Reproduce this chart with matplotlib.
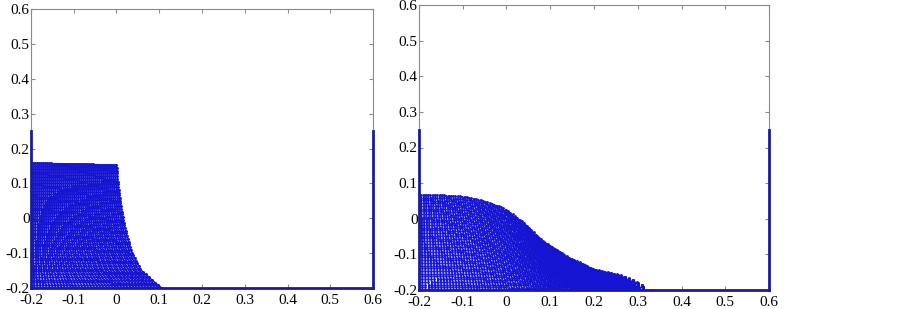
import numpy as np
import matplotlib.pyplot as plt

plt.rcParams['font.family'] = ['Liberation Serif', 'DejaVu Serif']

# tick values (same on both panels)
ticks = [-0.2, -0.1, 0.0, 0.1, 0.2, 0.3, 0.4, 0.5, 0.6]
tick_labels = ['-0.2', '-0.1', '0', '0.1', '0.2', '0.3', '0.4', '0.5', '0.6']

# tank walls
wall_top = 0.25
tank_left, tank_right, tank_bottom = -0.2, 0.6, -0.2

# panel 1: top of the water column and its collapsing front
top1_x = [-0.2, -0.1, 0.0]
top1_y = [0.158, 0.156, 0.152]
front1_y = [-0.2, -0.18, -0.15, -0.1, -0.05, 0.0, 0.05, 0.1, 0.152]
front1_x = [0.106, 0.086, 0.058, 0.036, 0.024, 0.015, 0.008, 0.003, 0.0]

# panel 2: free surface later on
surf2_x = [-0.2, -0.15, -0.1, -0.06, -0.02, 0.0, 0.04, 0.08, 0.14, 0.2, 0.26, 0.29, 0.315, 0.33]
surf2_y = [0.067, 0.066, 0.062, 0.053, 0.036, 0.025, -0.012, -0.06, -0.107, -0.142, -0.158, -0.172, -0.19, -0.2]
lean2 = 0.05

n_cols1, n_rows1 = 44, 46
n_cols2, n_rows2 = 90, 36
blue = '#1414d2'
wall_blue = '#1a1aa0'
grey = '#8a8a8a'

fig = plt.figure(figsize=(9.03, 3.09), dpi=100)
ax1 = fig.add_axes([31 / 903, 21 / 309, 342 / 903, 279 / 309])
ax2 = fig.add_axes([419 / 903, 19 / 309, 350 / 903, 285 / 309])

# panel 1 particles
v = np.linspace(0, 1, n_rows1)
for ui in np.linspace(0, 1, n_cols1):
    top = np.interp(-0.2 + 0.2 * ui, top1_x, top1_y)
    yy = -0.2 + v * (top + 0.2)
    xx = -0.2 + ui * (np.interp(yy, front1_y, front1_x) + 0.2)
    ax1.plot(xx, yy, '-', color=blue, lw=1.0, marker='.', ms=2.2)

# panel 2 particles: column spacing mostly uniform, partly area-weighted
v = np.linspace(0, 1, n_rows2)
xg = np.linspace(surf2_x[0], surf2_x[-1], 400)
hg = np.interp(xg, surf2_x, surf2_y) + 0.2
area = np.concatenate([[0], np.cumsum((hg[1:] + hg[:-1]) / 2 * np.diff(xg))])
for ui in np.linspace(0, 1, n_cols2):
    xt = 0.3 * np.interp(ui * area[-1], area, xg) + 0.7 * (surf2_x[0] + ui * (surf2_x[-1] - surf2_x[0]))
    xb = min(xt + lean2 * 4 * ui * (1 - ui), surf2_x[-1])
    top = np.interp(xt, surf2_x, surf2_y)
    yy = -0.2 + v * (top + 0.2)
    xx = xb + (xt - xb) * v
    ax2.plot(xx, yy, '-', color=blue, lw=0.9, marker='.', ms=2.0)

for ax in (ax1, ax2):
    ax.plot([tank_left, tank_left], [tank_bottom, wall_top], color=wall_blue, lw=2, clip_on=False, zorder=5)
    ax.plot([tank_right, tank_right], [tank_bottom, wall_top], color=wall_blue, lw=2, clip_on=False, zorder=5)
    ax.plot([tank_left, tank_right], [tank_bottom, tank_bottom], color=wall_blue, lw=2, clip_on=False, zorder=5)
    ax.set_xlim(-0.2, 0.6)
    ax.set_ylim(-0.2, 0.6)
    ax.set_xticks(ticks)
    ax.set_xticklabels(tick_labels)
    ax.set_yticks(ticks)
    ax.set_yticklabels(tick_labels)
    ax.tick_params(direction='in', top=True, right=True, length=3, color=grey,
                   labelsize=11)
    ax.tick_params(axis='x', pad=4)
    ax.tick_params(axis='y', pad=1)
    for s in ax.spines.values():
        s.set_color(grey)
        s.set_linewidth(0.8)

fig.savefig('out.png', dpi=100)
